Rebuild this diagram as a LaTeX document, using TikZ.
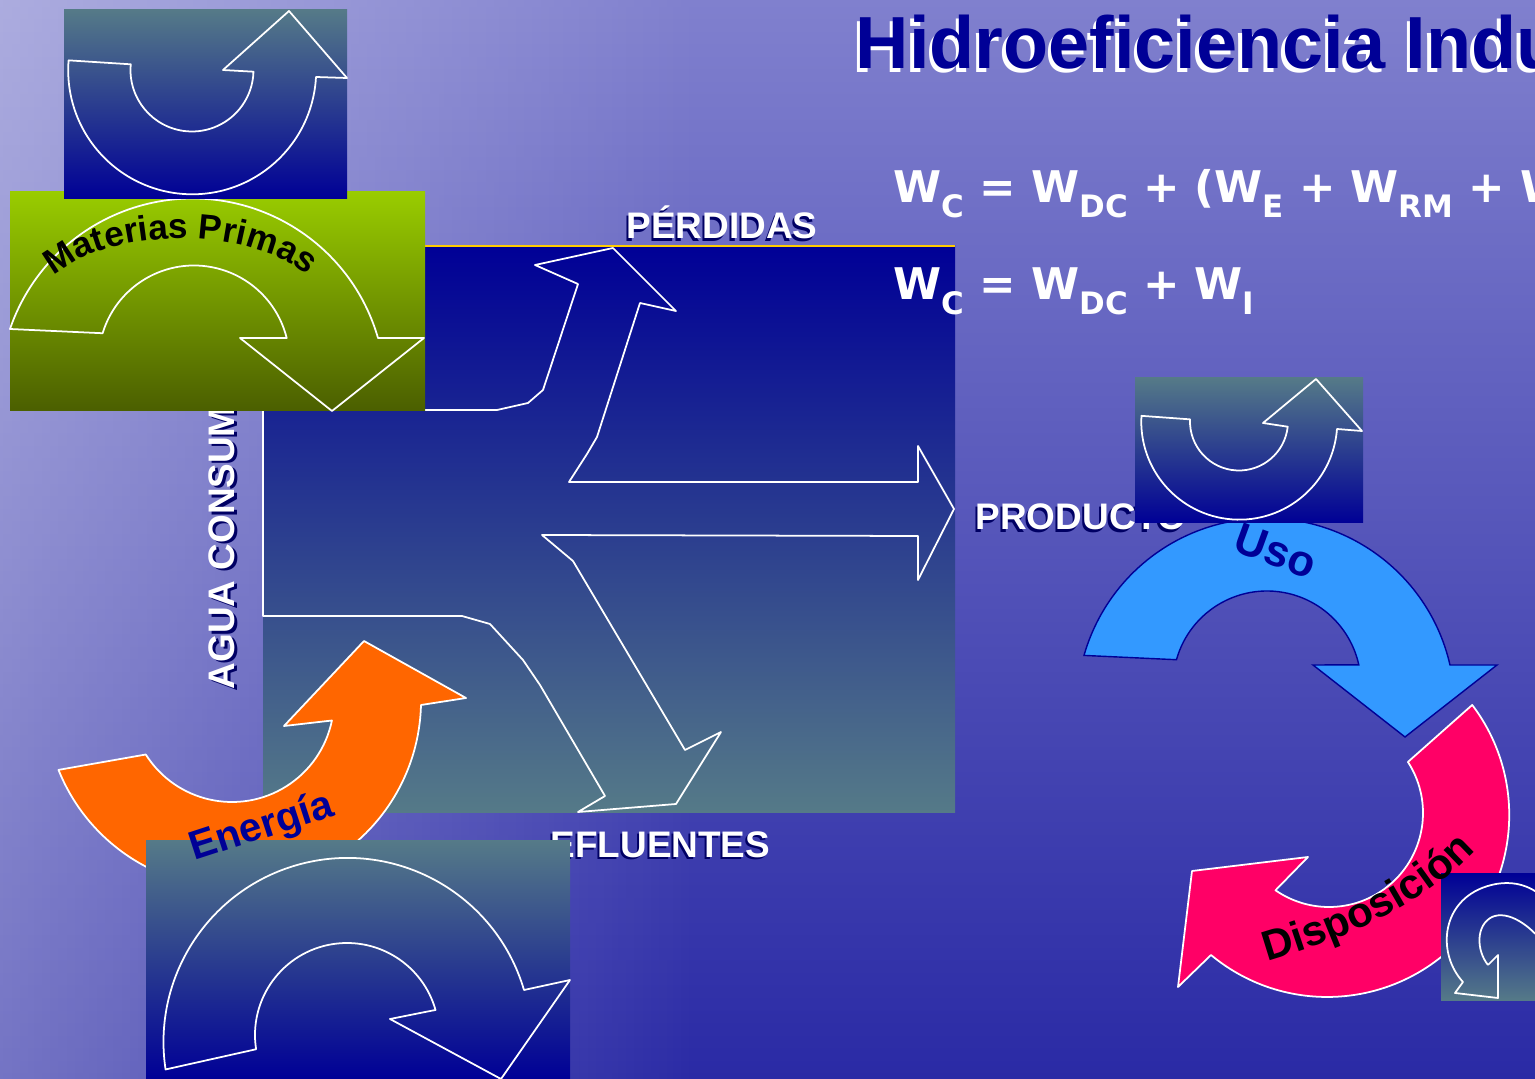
\documentclass[tikz,border=0pt]{standalone}
\usepackage{fontspec}
\setmainfont{Liberation Sans}
\newfontfamily\eqfont{DejaVu Sans}
\usepackage{tikz}
\usetikzlibrary{decorations.text,fadings}
\definecolor{bgtop}{RGB}{128,128,206}
\definecolor{bgmid}{RGB}{70,70,180}
\definecolor{bgbot}{RGB}{42,42,165}
\definecolor{deepnavy}{RGB}{0,0,150}
\definecolor{slateteal}{RGB}{85,122,136}
\definecolor{limetop}{RGB}{153,204,0}
\definecolor{olivebot}{RGB}{75,95,0}
\definecolor{energyorange}{RGB}{255,102,0}
\definecolor{useblue}{RGB}{51,153,255}
\definecolor{disposalpink}{RGB}{255,0,102}
\definecolor{edgegold}{RGB}{255,204,0}
\definecolor{shadenavy}{RGB}{0,0,100}
\newcommand{\shadowed}[3]{\makebox[0pt][l]{\kern-#2\raisebox{-#2}{\textcolor{#1}{#3}}}#3}
\newcommand{\tagtext}[1]{\shadowed{shadenavy}{0.6pt}{#1}}
\newcommand{\idx}[1]{\raisebox{-4pt}{\fontsize{8.8}{9}\selectfont #1}}

\begin{document}
\begin{tikzpicture}[
  x=0.01cm, y=-0.01cm,
  panel/.style={top color=slateteal, bottom color=deepnavy},
  ghost/.style={draw=white, line width=0.5pt, line join=round},
  tag/.style={font=\fontsize{10.5}{12}\selectfont\bfseries, text=white, inner sep=0pt, anchor=base west},
  curvetext/.style={font=\fontsize{11.5}{12}\selectfont\bfseries, text=deepnavy, inner sep=0pt},
  formula/.style={font=\eqfont\bfseries\fontsize{12.4}{14}\selectfont, text=white, inner sep=0pt, anchor=base west}
]
\useasboundingbox (0,0) rectangle (1535,1079);
\clip (0,0) rectangle (1535,1079);
\shade[top color=bgtop, middle color=bgmid, bottom color=bgbot] (0,0) rectangle (1535,1079);
\fill[white, opacity=0.35, path fading=east] (0,0) rectangle (700,1079);

\shade[top color=deepnavy, bottom color=slateteal] (263,246) rectangle (955,813);
\draw[edgegold, line width=0.8pt] (425,246) -- (955,246);
\draw[ghost] (263,410) -- (497,410) -- (528,403) -- (543,390) -- (578,284) -- (535,265) -- (613,248)
  -- (676,311) -- (640,303) -- (597,437) -- (587,454) -- (569,482) -- (918,482) -- (918,446)
  -- (954,509) -- (918,580) -- (918,536) -- (542,535) -- (573,561) -- (685,750) -- (721,732)
  -- (676,804) -- (578,812) -- (605,796) -- (540,685) -- (523,660) -- (490,624) -- (462,616)
  -- (263,616) -- cycle;

\node[tag] (losses) at (626,239) {\tagtext{PÉRDIDAS}};
\node[tag] (product) at (975,530) {\tagtext{PRODUCTO}};
\node[tag] (effluents) at (550,857) {\tagtext{EFLUENTES}};
\node[tag, rotate=90] (intake) at (235,690) {\tagtext{AGUA CONSUM}};

\shade[top color=limetop, bottom color=olivebot] (10,192) rectangle (425,411);
\draw[ghost] (194,361) ++(196.9:95.5) arc[start angle=196.9, end angle=346.1, radius=95.5]
  -- (240,338) -- (332,411) -- (424,338) -- (378,338)
  arc[start angle=343.9, end angle=198.9, radius=193] -- cycle;
\path[decorate, decoration={text along path, text align=center,
  text={|\fontsize{10}{12}\selectfont\bfseries|Materias Primas}}]
  (35,300) .. controls (75,218) and (290,218) .. (325,300);

\shade[panel] (64,10) rectangle (347,199);
\draw[ghost] (192,70) ++(185.3:61.5) arc[start angle=185.3, end angle=1.6, radius=61.5]
  -- (223,70) -- (289,11) -- (347,78) -- (316,77)
  arc[start angle=3.1, end angle=184.6, radius=124] -- cycle;

\filldraw[fill=energyorange, ghost] (232,700) ++(147.7:102) arc[start angle=147.7, end angle=11.6, radius=102]
  -- (284,726) -- (364,641) -- (466,698) -- (421,705)
  arc[start angle=1.5, end angle=158.2, radius=188] -- cycle;

\shade[panel] (146,841) rectangle (570,1079);
\draw[ghost] (347,1035) ++(171.1:92) arc[start angle=171.1, end angle=344.2, radius=92]
  -- (390,1019) -- (501,1079) -- (570,980) -- (524,990)
  arc[start angle=343.6, end angle=171.4, radius=184] -- cycle;
\node[curvetext, rotate=18] (energy) at (262,828) {Energía};

\filldraw[fill=useblue, draw=deepnavy, line width=0.4pt] (1267,685) ++(195.6:94) arc[start angle=195.6, end angle=347.6, radius=94]
  -- (1313,665) -- (1405,737) -- (1497,665) -- (1450,665)
  arc[start angle=347.1, end angle=195.9, radius=189] -- cycle;
\node[curvetext, font=\fontsize{12.5}{13}\selectfont\bfseries, rotate=-20] (use) at (1276,551) {Uso};

\shade[panel] (1135,378) rectangle (1363,523);
\draw[ghost] (1239,421.5) ++(182.5:49) arc[start angle=182.5, end angle=6.1, radius=49]
  -- (1263,423) -- (1316,379) -- (1362,431) -- (1337,429)
  arc[start angle=4.3, end angle=183.4, radius=98] -- cycle;

\filldraw[fill=disposalpink, ghost] (1329,813) ++(-32.9:94) arc[start angle=-32.9, end angle=124.7, radius=94]
  -- (1308,857) -- (1192,871) -- (1178,987) -- (1211,955)
  arc[start angle=129.7, end angle=-37.2, radius=182] -- cycle;

\shade[top color=deepnavy, bottom color=slateteal] (1441,874) rectangle (1535,1000);
\begin{scope}
\clip (1441,874) rectangle (1535,1000);
\draw[ghost] (1488,965) -- (1498,955) -- (1498,998) -- (1455,993) -- (1463,982)
  .. controls (1438,955) and (1440,905) .. (1482,888)
  .. controls (1510,877) and (1535,885) .. (1550,905) -- (1545,945)
  .. controls (1530,925) and (1508,910) .. (1492,917)
  .. controls (1476,925) and (1476,950) .. (1488,965);
\end{scope}
\path[decorate, decoration={text along path, text align=center,
  text={|\fontsize{12}{13}\selectfont\bfseries|Disposición}}]
  (1252,966) .. controls (1345,940) and (1430,905) .. (1486,838);

\node[font=\fontsize{21}{24}\selectfont\bfseries, text=deepnavy, inner sep=0pt, anchor=base west] (title) at (855,69)
  {\shadowed{white}{1pt}{Hidroeficiencia Indu}};
\node[formula] (balance) at (893,203) {W\idx{C} = W\idx{DC} + (W\idx{E} + W\idx{RM} + W};
\node[formula] (total) at (893,300) {W\idx{C} = W\idx{DC} + W\idx{I}};
\end{tikzpicture}
\end{document}
